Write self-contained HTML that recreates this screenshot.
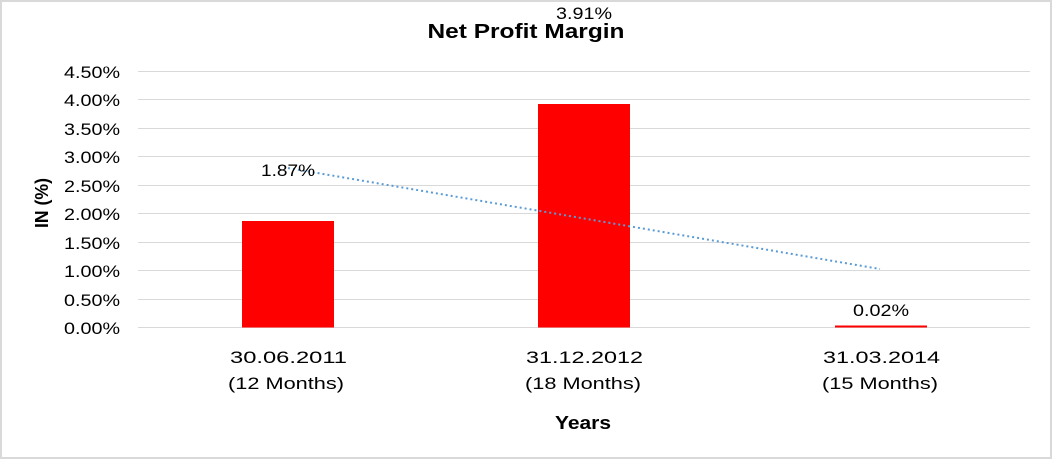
<!DOCTYPE html>
<html><head><style>
body{margin:0;background:#fff}
svg text{font-family:"Liberation Sans",Arial,sans-serif}
</style></head><body>
<svg width="1052" height="459" xmlns="http://www.w3.org/2000/svg">
<rect x="1" y="1" width="1050" height="457" fill="#fff" stroke="#d9d9d9" stroke-width="2"/>
<text x="526" y="38" text-anchor="middle" font-size="20" font-weight="bold" fill="#000" textLength="197" lengthAdjust="spacingAndGlyphs">Net Profit Margin</text>
<g stroke="#d9d9d9" stroke-width="1">
<line x1="138" x2="1030" y1="71.5" y2="71.5"/>
<line x1="138" x2="1030" y1="99.5" y2="99.5"/>
<line x1="138" x2="1030" y1="128.5" y2="128.5"/>
<line x1="138" x2="1030" y1="156.5" y2="156.5"/>
<line x1="138" x2="1030" y1="185.5" y2="185.5"/>
<line x1="138" x2="1030" y1="213.5" y2="213.5"/>
<line x1="138" x2="1030" y1="242.5" y2="242.5"/>
<line x1="138" x2="1030" y1="270.5" y2="270.5"/>
<line x1="138" x2="1030" y1="299.5" y2="299.5"/>
<line x1="138" x2="1030" y1="327.5" y2="327.5"/>
</g>
<g font-size="17" fill="#000">
<text x="64" y="78" textLength="56" lengthAdjust="spacingAndGlyphs">4.50%</text>
<text x="64" y="106" textLength="56" lengthAdjust="spacingAndGlyphs">4.00%</text>
<text x="64" y="135" textLength="56" lengthAdjust="spacingAndGlyphs">3.50%</text>
<text x="64" y="163" textLength="56" lengthAdjust="spacingAndGlyphs">3.00%</text>
<text x="64" y="192" textLength="56" lengthAdjust="spacingAndGlyphs">2.50%</text>
<text x="64" y="220" textLength="56" lengthAdjust="spacingAndGlyphs">2.00%</text>
<text x="64" y="249" textLength="56" lengthAdjust="spacingAndGlyphs">1.50%</text>
<text x="64" y="277" textLength="56" lengthAdjust="spacingAndGlyphs">1.00%</text>
<text x="64" y="306" textLength="56" lengthAdjust="spacingAndGlyphs">0.50%</text>
<text x="64" y="334" textLength="56" lengthAdjust="spacingAndGlyphs">0.00%</text>
</g>
<text transform="translate(48,228) rotate(-90)" font-size="18" font-weight="bold" textLength="50" lengthAdjust="spacingAndGlyphs">IN (%)</text>
<rect x="242" y="221" width="92" height="106.5" fill="#ff0000"/>
<rect x="538" y="104" width="92" height="223.5" fill="#ff0000"/>
<rect x="835" y="325.5" width="92" height="2" fill="#ff0000"/>
<line x1="288" y1="168" x2="880" y2="269" stroke="#5b9bd5" stroke-width="2" stroke-dasharray="2,3"/>
<g font-size="17">
<text x="261" y="176" textLength="54" lengthAdjust="spacingAndGlyphs">1.87%</text>
<text x="556" y="19" textLength="56" lengthAdjust="spacingAndGlyphs">3.91%</text>
<text x="853" y="316" textLength="56" lengthAdjust="spacingAndGlyphs">0.02%</text>
<text x="230" y="363" textLength="117" lengthAdjust="spacingAndGlyphs">30.06.2011</text>
<text x="228" y="389" textLength="116" lengthAdjust="spacingAndGlyphs">(12 Months)</text>
<text x="526" y="363" textLength="117" lengthAdjust="spacingAndGlyphs">31.12.2012</text>
<text x="525" y="389" textLength="116" lengthAdjust="spacingAndGlyphs">(18 Months)</text>
<text x="823" y="363" textLength="117" lengthAdjust="spacingAndGlyphs">31.03.2014</text>
<text x="822" y="389" textLength="116" lengthAdjust="spacingAndGlyphs">(15 Months)</text>
</g>
<text x="555" y="429" font-size="18" font-weight="bold" textLength="56" lengthAdjust="spacingAndGlyphs">Years</text>
</svg>
</body></html>
